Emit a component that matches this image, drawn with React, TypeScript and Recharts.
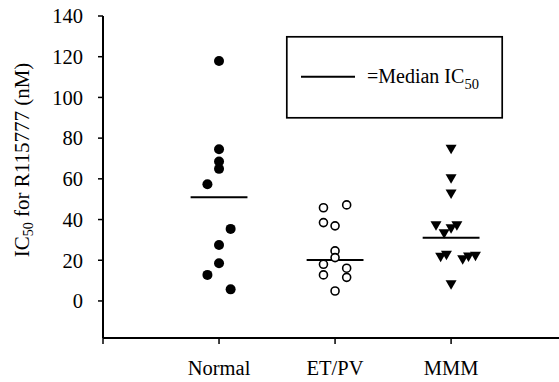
import React from 'react';
import {
  ScatterChart,
  Scatter,
  XAxis,
  YAxis,
  ReferenceLine,
} from 'recharts';

const categories = ['Normal', 'ET/PV', 'MMM'];
const yTicks = [0, 20, 40, 60, 80, 100, 120, 140];

// IC50 values (nM) read per group, with small horizontal jitter offsets
const normalValues = [117.9, 74.5, 68.5, 64.9, 57.3, 35.4, 27.5, 18.5, 12.8, 5.7];
const normalJitter = [0, 0, 0, 0, -0.1, 0.1, 0, 0, -0.1, 0.1];

const etpvValues = [45.8, 47.2, 38.5, 36.9, 24.6, 21.3, 18.0, 16.1, 12.8, 11.6, 4.9];
const etpvJitter = [-0.1, 0.1, -0.1, 0, 0, 0, -0.1, 0.1, -0.1, 0.1, 0];

const mmmValues = [74.5, 60, 52.5, 37, 37, 35.5, 33, 21.5, 22.5, 20.3, 21.6, 22, 8];
const mmmJitter = [0, 0, 0, -0.13, 0.05, 0, -0.06, -0.09, -0.04, 0.1, 0.15, 0.21, 0];

const medians = [51, 20.1, 31.1];

const FONT = "'Liberation Serif', 'Times New Roman', serif";

const toPoints = (values: number[], jitter: number[], group: number) =>
  values.map((v, i) => ({ x: group + jitter[i], y: v }));

const normalData = toPoints(normalValues, normalJitter, 1);
const etpvData = toPoints(etpvValues, etpvJitter, 2);
const mmmData = toPoints(mmmValues, mmmJitter, 3);

const FilledCircle = (props: any) => (
  <circle cx={props.cx} cy={props.cy} r={5} fill="#000" />
);

const OpenCircle = (props: any) => (
  <circle cx={props.cx} cy={props.cy} r={4} fill="#fff" stroke="#000" strokeWidth={1.6} />
);

const DownTriangle = (props: any) => {
  const { cx, cy } = props;
  return (
    <polygon
      points={`${cx - 5.5},${cy - 4.5} ${cx + 5.5},${cy - 4.5} ${cx},${cy + 5}`}
      fill="#000"
    />
  );
};

const YLabel = () => (
  <text
    x={22}
    y={160}
    transform="rotate(-90, 22, 160)"
    textAnchor="middle"
    dominantBaseline="central"
    style={{ fontFamily: FONT, fontSize: 21 }}
    fill="#000"
  >
    IC
    <tspan dy={6} style={{ fontSize: 14 }}>50</tspan>
    <tspan dy={-6}> for R115777 (nM)</tspan>
  </text>
);

const tickStyle = { fill: '#000', fontSize: 20.5, style: { fontFamily: FONT, fontSize: 20.5 } };

export default function App() {
  return (
    <div
      style={{
        position: 'absolute',
        left: 0,
        top: 0,
        width: 559,
        height: 382,
        background: '#fff',
        fontFamily: FONT,
      }}
    >
      <ScatterChart
        width={559}
        height={382}
        margin={{ top: 16, right: 0, bottom: 0, left: 0 }}
        style={{ fontFamily: FONT }}
      >
        <XAxis
          type="number"
          dataKey="x"
          domain={[0, 3.93]}
          ticks={[0, 1, 2, 3]}
          tickFormatter={(v: number) => (v >= 1 ? categories[v - 1] : '')}
          height={44}
          axisLine={{ stroke: '#000', strokeWidth: 2 }}
          tickLine={{ stroke: '#000', strokeWidth: 1.5 }}
          tickSize={6}
          tickMargin={16}
          tick={tickStyle}
          allowDataOverflow
        />
        <YAxis
          type="number"
          dataKey="y"
          domain={[-18.2, 140]}
          ticks={yTicks}
          width={103}
          axisLine={{ stroke: '#000', strokeWidth: 2 }}
          tickLine={{ stroke: '#000', strokeWidth: 1.5 }}
          tickSize={5}
          tickMargin={15}
          tick={tickStyle}
          label={<YLabel />}
          allowDataOverflow
        />
        {medians.map((m, i) => (
          <ReferenceLine
            key={`med-${i}`}
            segment={[
              { x: i + 1 - 0.245, y: m },
              { x: i + 1 + 0.245, y: m },
            ]}
            stroke="#000"
            strokeWidth={2}
          />
        ))}
        <Scatter data={normalData} shape={FilledCircle} isAnimationActive={false} />
        <Scatter data={etpvData} shape={OpenCircle} isAnimationActive={false} />
        <Scatter data={mmmData} shape={DownTriangle} isAnimationActive={false} />
      </ScatterChart>
      <svg
        width={559}
        height={382}
        style={{ position: 'absolute', left: 0, top: 0, pointerEvents: 'none' }}
      >
        <rect x={286.8} y={36.8} width={215.4} height={81} fill="#fff" stroke="#000" strokeWidth={1.7} />
        <line x1={301} x2={355} y1={76.7} y2={76.7} stroke="#000" strokeWidth={2} />
        <text x={367} y={83.3} fill="#000" style={{ fontFamily: FONT, fontSize: 20 }}>
          =Median IC
          <tspan dy={6} style={{ fontSize: 14.5 }}>50</tspan>
        </text>
      </svg>
    </div>
  );
}
